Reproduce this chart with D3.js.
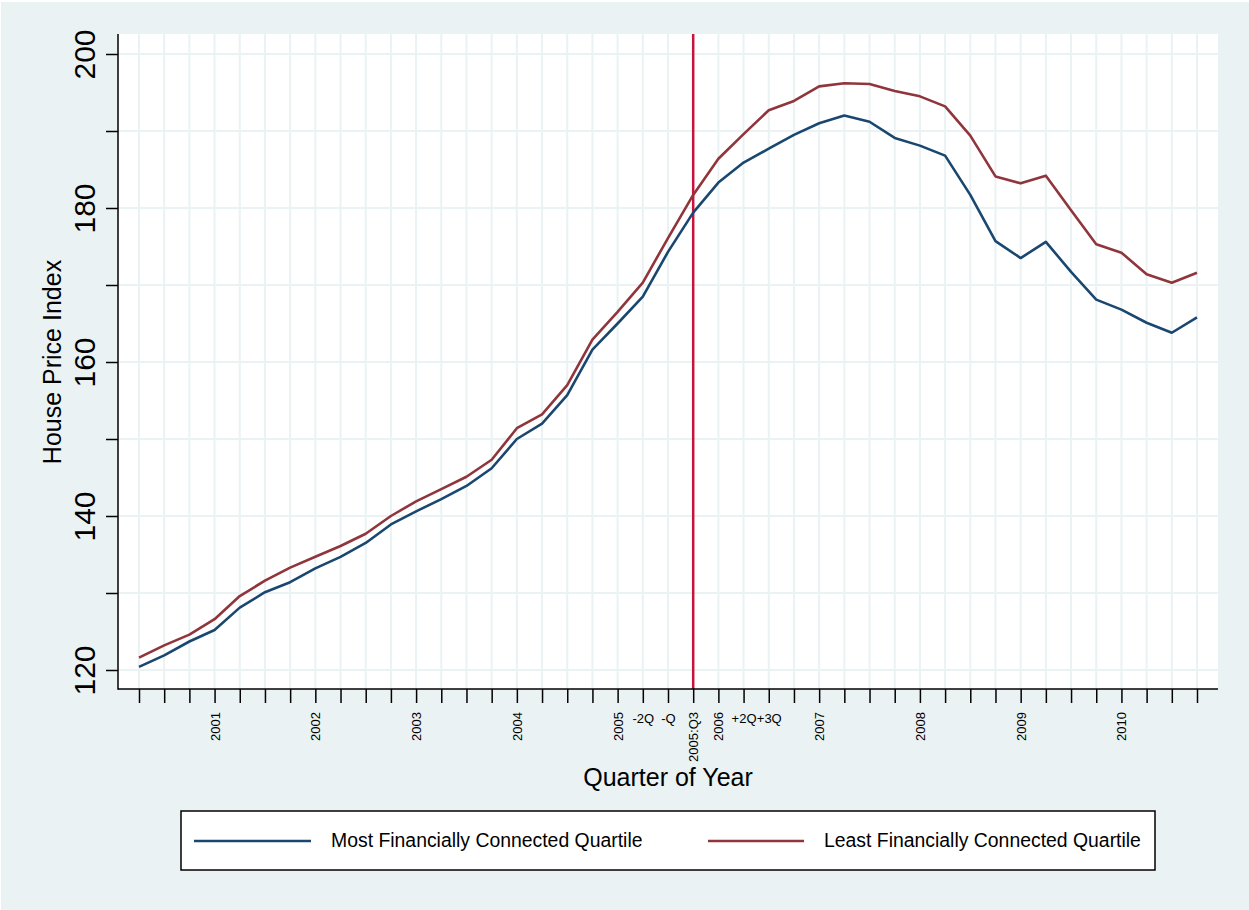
<!DOCTYPE html>
<html>
<head>
<meta charset="utf-8">
<script src="https://cdn.jsdelivr.net/npm/d3@7"></script>
<style>
  body { margin: 0; background: #fff; }
  svg { display: block; font-family: "Liberation Sans", Arial, sans-serif; }
</style>
</head>
<body>
<svg id="chart" width="1249" height="910"></svg>
<script>
// quarterly index, 2000:Q4 .. 2011:Q2 (43 quarters)
const quarterLabels = [
  "", "", "", "2001", "", "", "", "2002", "", "", "", "2003", "", "", "", "2004",
  "", "", "", "2005", "-2Q", "-Q", "2005:Q3", "2006", "+2Q", "+3Q", "", "2007",
  "", "", "", "2008", "", "", "", "2009", "", "", "", "2010", "", "", ""
];
const flatLabels = ["-2Q", "-Q", "+2Q", "+3Q"];

const mostConnected = [
  120.4, 121.9, 123.7, 125.2, 128.1, 130.1, 131.4, 133.2, 134.7, 136.5,
  138.9, 140.6, 142.2, 143.9, 146.2, 150.0, 152.0, 155.7, 161.6, 165.0,
  168.5, 174.3, 179.4, 183.3, 185.9, 187.7, 189.5, 191.0, 192.0, 191.2,
  189.1, 188.1, 186.8, 181.7, 175.7, 173.5, 175.6, 171.7, 168.1, 166.8,
  165.1, 163.8, 165.8
];
const leastConnected = [
  121.6, 123.2, 124.6, 126.6, 129.6, 131.6, 133.3, 134.7, 136.1, 137.7,
  140.0, 141.9, 143.5, 145.1, 147.3, 151.4, 153.2, 157.0, 162.9, 166.5,
  170.3, 176.1, 181.7, 186.4, 189.6, 192.7, 193.9, 195.8, 196.2, 196.1,
  195.2, 194.5, 193.2, 189.4, 184.1, 183.2, 184.2, 179.7, 175.3, 174.2,
  171.4, 170.3, 171.6
];
const yTicks = [120, 130, 140, 150, 160, 170, 180, 190, 200];
const yLabelled = [120, 140, 160, 180, 200];
const eventIndex = 22; // 2005:Q3

const series = [
  { name: "Most Financially Connected Quartile", values: mostConnected, color: "#1a476f" },
  { name: "Least Financially Connected Quartile", values: leastConnected, color: "#90353b" }
];

const svg = d3.select("#chart");
const plot = { left: 118, right: 1218, top: 34, bottom: 689 };

svg.append("rect")
  .attr("x", 1).attr("y", 2).attr("width", 1248).attr("height", 908)
  .attr("fill", "#eaf2f3");

svg.append("rect")
  .attr("x", plot.left).attr("y", plot.top)
  .attr("width", plot.right - plot.left).attr("height", plot.bottom - plot.top)
  .attr("fill", "#fff");

const x = d3.scaleLinear().domain([0, quarterLabels.length - 1]).range([139, 1197]);
const y = d3.scaleLinear().domain([120, 200]).range([670, 54]);

// grid
const grid = svg.append("g").attr("stroke", "#eaf2f3").attr("stroke-width", 2);
grid.selectAll("line.v")
  .data(d3.range(quarterLabels.length))
  .join("line")
  .attr("class", "v")
  .attr("x1", d => x(d)).attr("x2", d => x(d))
  .attr("y1", plot.top).attr("y2", plot.bottom);
grid.selectAll("line.h")
  .data(yTicks)
  .join("line")
  .attr("class", "h")
  .attr("x1", plot.left).attr("x2", plot.right)
  .attr("y1", d => y(d)).attr("y2", d => y(d));

// event line
svg.append("line")
  .attr("x1", x(eventIndex)).attr("x2", x(eventIndex))
  .attr("y1", plot.top).attr("y2", plot.bottom)
  .attr("stroke", "#c8143c").attr("stroke-width", 2.5);

// series
const line = d3.line().x((d, i) => x(i)).y(d => y(d));
series.forEach(s => {
  svg.append("path")
    .datum(s.values)
    .attr("fill", "none")
    .attr("stroke", s.color)
    .attr("stroke-width", 2.6)
    .attr("stroke-linejoin", "round")
    .attr("d", line);
});

// y axis
const yAxis = svg.append("g")
  .attr("transform", `translate(${plot.left},0)`)
  .call(d3.axisLeft(y).tickValues(yTicks).tickSize(12).tickSizeOuter(0)
    .tickFormat(d => yLabelled.includes(d) ? d : ""));
yAxis.select(".domain").remove();
yAxis.selectAll(".tick line").attr("stroke", "#000").attr("stroke-width", 1.5);
yAxis.selectAll(".tick text")
  .attr("transform", "rotate(-90)")
  .attr("x", 0).attr("y", -23).attr("dy", 0)
  .attr("text-anchor", "middle")
  .attr("fill", "#000")
  .style("font-size", "30px");

// x axis
const xAxis = svg.append("g")
  .attr("transform", `translate(0,${plot.bottom})`)
  .call(d3.axisBottom(x).tickValues(d3.range(quarterLabels.length)).tickSize(14).tickSizeOuter(0)
    .tickFormat(i => quarterLabels[i]));
xAxis.select(".domain").remove();
xAxis.selectAll(".tick line").attr("stroke", "#000").attr("stroke-width", 1.5);
xAxis.selectAll(".tick text")
  .attr("fill", "#000")
  .style("font-size", "13px")
  .each(function(i) {
    const t = d3.select(this);
    if (flatLabels.includes(quarterLabels[i])) {
      t.attr("y", 34).attr("dy", 0).attr("text-anchor", "middle");
    } else {
      t.attr("transform", "translate(0,23) rotate(-90)")
        .attr("x", 0).attr("y", 0).attr("dy", "0.35em")
        .attr("text-anchor", "end");
    }
  });

// axis lines
svg.append("line")
  .attr("x1", plot.left).attr("x2", plot.left)
  .attr("y1", plot.top).attr("y2", plot.bottom + 0.75)
  .attr("stroke", "#000").attr("stroke-width", 1.5);
svg.append("line")
  .attr("x1", plot.left).attr("x2", plot.right)
  .attr("y1", plot.bottom).attr("y2", plot.bottom)
  .attr("stroke", "#000").attr("stroke-width", 1.5);

// titles
svg.append("text")
  .attr("x", 668).attr("y", 786)
  .attr("text-anchor", "middle")
  .style("font-size", "25px")
  .text("Quarter of Year");
svg.append("text")
  .attr("transform", "translate(61,362) rotate(-90)")
  .attr("text-anchor", "middle")
  .style("font-size", "25px")
  .text("House Price Index");

// legend
const legend = svg.append("g");
legend.append("rect")
  .attr("x", 181).attr("y", 811).attr("width", 974).attr("height", 59)
  .attr("fill", "#fff").attr("stroke", "#000").attr("stroke-width", 1.5);
const legendPos = [{ x1: 194, x2: 311, tx: 331 }, { x1: 708, x2: 804, tx: 824 }];
series.forEach((s, i) => {
  const p = legendPos[i];
  legend.append("line")
    .attr("x1", p.x1).attr("x2", p.x2).attr("y1", 841).attr("y2", 841)
    .attr("stroke", s.color).attr("stroke-width", 2.6);
  legend.append("text")
    .attr("x", p.tx).attr("y", 847)
    .style("font-size", "19.4px")
    .text(s.name);
});
</script>
</body>
</html>
